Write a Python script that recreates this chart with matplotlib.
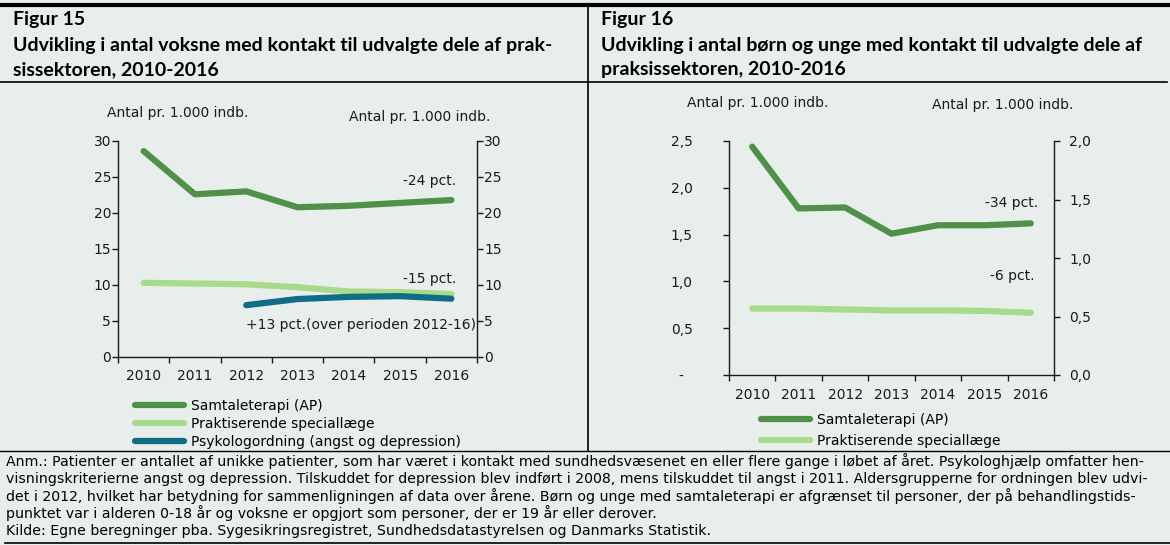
import numpy as np
import matplotlib
matplotlib.use("Agg")
import matplotlib.pyplot as plt
from matplotlib.lines import Line2D

# data
years = ["2010", "2011", "2012", "2013", "2014", "2015", "2016"]

# Figur 15 - voksne (antal pr. 1.000 indb.)
adult_samtale = [28.6, 22.6, 23.0, 20.8, 21.0, 21.4, 21.8]
adult_special = [10.3, 10.2, 10.1, 9.7, 9.1, 9.0, 8.75]
adult_psyk = [np.nan, np.nan, 7.2, 8.05, 8.35, 8.45, 8.1]
adult_ticks = [0, 5, 10, 15, 20, 25, 30]
adult_ticklabels = ["0", "5", "10", "15", "20", "25", "30"]

# Figur 16 - boern og unge (antal pr. 1.000 indb.)
child_samtale = [2.44, 1.78, 1.79, 1.51, 1.60, 1.60, 1.62]
child_special = [0.71, 0.71, 0.70, 0.69, 0.69, 0.685, 0.665]
child_ticks_left = [0, 0.5, 1.0, 1.5, 2.0, 2.5]
child_ticklabels_left = ["-  ", "0,5", "1,0", "1,5", "2,0", "2,5"]
child_ticks_right = [0, 0.5, 1.0, 1.5, 2.0]
child_ticklabels_right = ["0,0", "0,5", "1,0", "1,5", "2,0"]

label_samtale = "Samtaleterapi (AP)"
label_special = "Praktiserende speciallæge"
label_psyk = "Psykologordning (angst og depression)"

title_left = ["Figur 15",
              "Udvikling i antal voksne med kontakt til udvalgte dele af prak-",
              "sissektoren, 2010-2016"]
title_right = ["Figur 16",
               "Udvikling i antal børn og unge med kontakt til udvalgte dele af",
               "praksissektoren, 2010-2016"]
unit_label = "Antal pr. 1.000 indb."

note_lines = [
    "Anm.: Patienter er antallet af unikke patienter, som har været i kontakt med sundhedsvæsenet en eller flere gange i løbet af året. Psykologhjælp omfatter hen-",
    "visningskriterierne angst og depression. Tilskuddet for depression blev indført i 2008, mens tilskuddet til angst i 2011. Aldersgrupperne for ordningen blev udvi-",
    "det i 2012, hvilket har betydning for sammenligningen af data over årene. Børn og unge med samtaleterapi er afgrænset til personer, der på behandlingstids-",
    "punktet var i alderen 0-18 år og voksne er opgjort som personer, der er 19 år eller derover.",
    "Kilde: Egne beregninger pba. Sygesikringsregistret, Sundhedsdatastyrelsen og Danmarks Statistik.",
]

# colours
BG = "#e8eeec"
C_SAMTALE = "#4f9149"
C_SPECIAL = "#a9d98b"
C_PSYK = "#0f6e85"
INK = "#1a1a1a"

W, H = 1170, 545


def fx(x):
    return x / W


def fy(y):
    return 1 - y / H


plt.rcParams["font.family"] = ["DejaVu Sans"]
plt.rcParams["font.size"] = 10

fig = plt.figure(figsize=(W / 100, H / 100), dpi=100, facecolor=BG)


def frame_axes(ax, ax_r, left_pad, right_pad, bottom_pad):
    for a in (ax, ax_r):
        a.set_facecolor("none")
        a.spines["top"].set_visible(False)
        for s in a.spines.values():
            s.set_color(INK)
            s.set_linewidth(1.0)
    ax.spines["right"].set_visible(False)
    for s in ("left", "bottom"):
        ax_r.spines[s].set_visible(False)
    n = len(years)
    ax.set_xlim(-0.5, n - 0.5)
    ax.set_xticks(np.arange(-0.5, n, 1.0))
    ax.set_xticklabels([])
    ax.set_xticks(np.arange(n), minor=True)
    ax.set_xticklabels(years, minor=True)
    ax.tick_params(axis="x", which="major", direction="out", length=4, width=1.0, color=INK)
    ax.tick_params(axis="x", which="minor", length=0, pad=bottom_pad, labelsize=10, labelcolor=INK)
    ax.tick_params(axis="y", direction="out", length=4, width=1.0, color=INK,
                   pad=left_pad, labelsize=10, labelcolor=INK)
    ax_r.tick_params(axis="y", direction="out", length=4, width=1.0, color=INK,
                     pad=right_pad, labelsize=10, labelcolor=INK)


line_kw = dict(lw=4.5, solid_capstyle="round")

# ---- Figur 15
ax1 = fig.add_axes([fx(118), fy(357), (477 - 118) / W, (357 - 141) / H])
ax1r = ax1.twinx()
x = np.arange(len(years))
l1, = ax1.plot(x, adult_samtale, color=C_SAMTALE, label=label_samtale, **line_kw)
l2, = ax1.plot(x, adult_special, color=C_SPECIAL, label=label_special, **line_kw)
l3, = ax1.plot(x, adult_psyk, color=C_PSYK, label=label_psyk, **line_kw)
ax1.set_ylim(0, 30)
ax1r.set_ylim(0, 30)
ax1.set_yticks(adult_ticks, adult_ticklabels)
ax1r.set_yticks(adult_ticks, adult_ticklabels)
frame_axes(ax1, ax1r, left_pad=1, right_pad=1, bottom_pad=8.5)

ax1.legend(handles=[l1, l2, l3], loc="upper left", bbox_to_anchor=(fx(135), fy(399)),
           bbox_transform=fig.transFigure, frameon=False, borderpad=0, borderaxespad=0,
           handlelength=3.5, handletextpad=0.55, labelspacing=0.3, fontsize=10)

# ---- Figur 16
ax2 = fig.add_axes([fx(729), fy(375), (1054 - 729) / W, (375 - 141) / H])
ax2r = ax2.twinx()
m1, = ax2.plot(x, child_samtale, color=C_SAMTALE, label=label_samtale, **line_kw)
m2, = ax2.plot(x, child_special, color=C_SPECIAL, label=label_special, **line_kw)
ax2.set_ylim(0, 2.5)
ax2r.set_ylim(0, 2.0)
ax2.set_yticks(child_ticks_left, child_ticklabels_left)
ax2r.set_yticks(child_ticks_right, child_ticklabels_right)
frame_axes(ax2, ax2r, left_pad=22, right_pad=7, bottom_pad=9.5)

ax2.legend(handles=[m1, m2], loc="upper left", bbox_to_anchor=(fx(761), fy(413)),
           bbox_transform=fig.transFigure, frameon=False, borderpad=0, borderaxespad=0,
           handlelength=3.5, handletextpad=0.5, labelspacing=0.51, fontsize=10)

# ---- text labels
txt = dict(fontsize=10, color=INK, va="center")
fig.text(fx(107), fy(113), unit_label, ha="left", **txt)
fig.text(fx(349), fy(117), unit_label, ha="left", **txt)
fig.text(fx(687), fy(103), unit_label, ha="left", **txt)
fig.text(fx(932), fy(105), unit_label, ha="left", **txt)

fig.text(fx(456), fy(181), "-24 pct.", ha="right", **txt)
fig.text(fx(456), fy(279), "-15 pct.", ha="right", **txt)
fig.text(fx(246), fy(325), "+13 pct.(over perioden 2012-16)", ha="left", **txt)
fig.text(fx(1038), fy(203), "-34 pct.", ha="right", **txt)
fig.text(fx(1035), fy(276), "-6 pct.", ha="right", **txt)

# ---- titles
ttl = dict(fontsize=14, fontweight="bold", family=["Lato", "DejaVu Sans"], color="black", va="center")
for text, yy in zip(title_left, [19, 46, 70]):
    fig.text(fx(13), fy(yy), text, ha="left", **ttl)
for text, yy in zip(title_right, [19, 46, 70]):
    fig.text(fx(601), fy(yy), text, ha="left", **ttl)

# ---- note
for text, yy in zip(note_lines, [461, 478.5, 496, 513.5, 531]):
    fig.text(fx(6), fy(yy), text, ha="left", va="center", fontsize=10.15, color="black")

# ---- frame lines
def hline(y, x0, x1, lw):
    fig.add_artist(Line2D([fx(x0), fx(x1)], [fy(y), fy(y)], color="black", lw=lw,
                          transform=fig.transFigure))


hline(5, 0, 1170, 3.0)
hline(81.5, 0, 1167, 1.2)
hline(451, 0, 1170, 1.0)
hline(543, 5, 1170, 1.2)
fig.add_artist(Line2D([fx(588), fx(588)], [fy(5), fy(451)], color="black", lw=1.2,
                      transform=fig.transFigure))

fig.savefig("out.png", dpi=100, facecolor=BG)
